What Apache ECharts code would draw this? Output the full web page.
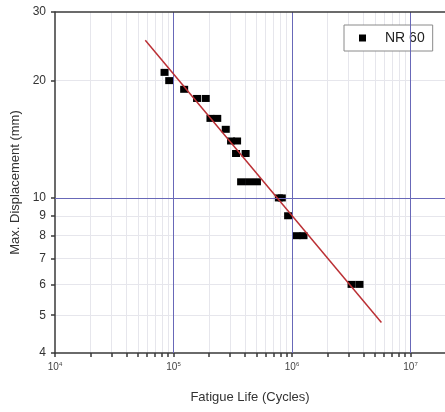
<!DOCTYPE html>
<html>
<head>
<meta charset="utf-8">
<script src="https://cdn.jsdelivr.net/npm/echarts@6/dist/echarts.min.js"></script>
<style>
  html, body { margin: 0; padding: 0; background: #fff; }
  #chart { width: 445px; height: 412px; }
</style>
</head>
<body>
<div id="chart"></div>
<script>
// fatigue test points (cycles, mm)
var lifeCycles = [84000, 92000, 123000, 158000, 187000, 205000, 234000, 276000, 306000, 344000, 337000,
    406000, 372000, 434000, 506000, 774000, 820000, 927000, 1091000, 1250000, 3180000, 3710000];
var displacement = [21, 20, 19, 18, 18, 16, 16, 15, 14, 14, 13, 13, 11, 11, 11, 10, 10, 9, 8, 8, 6, 6];

// fitted line ends
var fitLife = [57800, 5680000];
var fitDisp = [25.4, 4.79];

// ticks
var xMajorTicks = [1e4, 1e5, 1e6, 1e7];
var xAllTicks = [];
for (var d = 0; d < 4; d++) {
    for (var k = 1; k <= 9; k++) {
        if (d < 3 || k === 1) xAllTicks.push(k * xMajorTicks[d]);
    }
}
var yTicks = [4, 5, 6, 7, 8, 9, 10, 20, 30];
// blue grid lines
var xMajorGrid = [1e5, 1e6, 1e7];
var yMajorGrid = [10];

var FONT = 'Liberation Sans, Arial, sans-serif';
var AXIS_COLOR = '#3a3a3a';
var MAJOR_GRID = '#6868b8';
var MINOR_GRID = '#e6e6ec';
var FIT_COLOR = '#bb3035';

var chart = echarts.init(document.getElementById('chart'));

var points = [];
for (var i = 0; i < lifeCycles.length; i++) {
    points.push([lifeCycles[i], displacement[i]]);
}
var marks = [];
xMajorGrid.forEach(function (v) { marks.push({ xAxis: v }); });
yMajorGrid.forEach(function (v) { marks.push({ yAxis: v }); });
// top frame line
marks.push({ yAxis: 30, lineStyle: { color: AXIS_COLOR, width: 1.5 } });
// fit line through the axes' scales
marks.push([
    { coord: [fitLife[0], fitDisp[0]], lineStyle: { color: FIT_COLOR, width: 1.5 } },
    { coord: [fitLife[1], fitDisp[1]] }
]);

var option = {
    animation: false,
    grid: { left: 55, top: 12, right: 0, bottom: 59 },
    legend: {
        data: ['NR 60'],
        left: 344,
        top: 25,
        padding: [6, 8, 6, 15],
        itemWidth: 7,
        itemHeight: 7,
        itemGap: 5,
        backgroundColor: '#fff',
        borderColor: '#8a8a8a',
        borderWidth: 1,
        textStyle: { fontFamily: FONT, fontSize: 14, color: '#222', padding: [0, 0, 0, 14] }
    },
    xAxis: {
        type: 'log',
        min: 1e4,
        max: 1.954e7,
        name: 'Fatigue Life (Cycles)',
        nameLocation: 'middle',
        nameGap: 38,
        nameTextStyle: { fontFamily: FONT, fontSize: 13, color: '#333' },
        axisLine: { show: true, lineStyle: { color: AXIS_COLOR, width: 1.5 } },
        axisTick: { show: true, length: 4, customValues: xAllTicks, lineStyle: { color: AXIS_COLOR, width: 1.5 } },
        axisLabel: {
            customValues: xMajorTicks,
            margin: 8,
            formatter: function (v) {
                return '{b|10}{s|' + Math.round(Math.log10(v)) + '}';
            },
            rich: {
                b: { fontFamily: FONT, fontSize: 10, color: '#444' },
                s: { fontFamily: FONT, fontSize: 6, color: '#444', padding: [0, 0, 7, 0] }
            }
        },
        splitLine: { show: true, showMinLine: false, showMaxLine: false, lineStyle: { color: MINOR_GRID, width: 1 } }
    },
    yAxis: {
        type: 'log',
        min: 4,
        max: 30,
        name: 'Max. Displacement (mm)',
        nameLocation: 'middle',
        nameGap: 33,
        nameRotate: 90,
        nameTextStyle: { fontFamily: FONT, fontSize: 13, color: '#333' },
        axisLine: { show: true, onZero: false, lineStyle: { color: AXIS_COLOR, width: 1.5 } },
        axisTick: { show: true, length: 4, customValues: yTicks, lineStyle: { color: AXIS_COLOR, width: 1.5 } },
        axisLabel: {
            customValues: yTicks,
            margin: 9,
            fontFamily: FONT,
            fontSize: 12,
            color: '#333',
            formatter: function (v) { return String(Math.round(v)); }
        },
        splitLine: { show: true, showMinLine: false, showMaxLine: false, lineStyle: { color: MINOR_GRID, width: 1 } }
    },
    series: [
        {
            name: 'NR 60',
            type: 'scatter',
            data: points,
            symbol: 'rect',
            symbolSize: [8, 7],
            itemStyle: { color: '#000', opacity: 1 },
            markLine: {
                silent: true,
                symbol: 'none',
                label: { show: false },
                emphasis: { disabled: true },
                lineStyle: { color: MAJOR_GRID, width: 1, type: 'solid' },
                data: marks
            }
        }
    ]
};

chart.setOption(option);
</script>
</body>
</html>
